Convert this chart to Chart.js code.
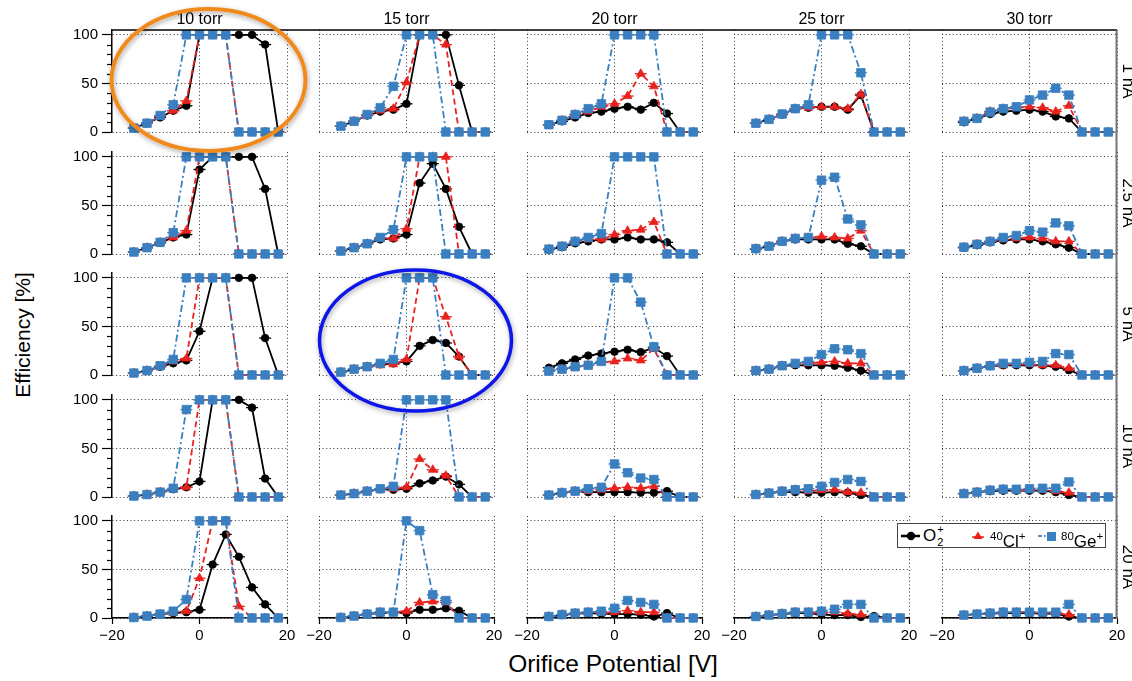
<!DOCTYPE html>
<html lang="en">
<head>
<meta charset="UTF-8">
<title>Efficiency vs orifice potential</title>
<script src="https://cdn.jsdelivr.net/npm/chart.js"></script>
<style>
  body { margin:0; width:1132px; height:681px; overflow:hidden; background:#fff;
         font-family:"Liberation Sans", Arial, Helvetica, sans-serif; position:relative; color:#000; }
  .panel { position:absolute; }
  .coltitle { position:absolute; top:9px; width:175px; text-align:center; font-size:16px; line-height:20px; }
  .rowlabel { position:absolute; width:70px; height:20px; line-height:20px; text-align:center; font-size:17px;
              transform:rotate(90deg); white-space:nowrap; }
  .ytitle { position:absolute; left:-77px; top:322px; width:200px; height:26px; line-height:26px; text-align:center;
            font-size:21px; transform:rotate(-90deg); }
  .xtitle { position:absolute; left:413px; top:649px; width:400px; text-align:center; font-size:24.5px; line-height:30px; }
  #legend { position:absolute; left:897px; top:523px; width:207px; height:23px; border:1.5px solid #444; background:#fff; z-index:5; }
  #legend .g { position:absolute; top:0; }
  #legend .t { position:absolute; top:0; font-size:17px; line-height:24px; white-space:nowrap; }
  .ss { position:relative; display:inline-block; width:9px; height:24px; vertical-align:top; }
  .ss .a { position:absolute; left:1px; top:-1px; font-size:11px; line-height:12px; }
  .ss .b { position:absolute; left:1px; top:12px; font-size:11px; line-height:12px; }
  .sp { font-size:11.5px; vertical-align:7px; }
  #overlay { position:absolute; left:0; top:0; z-index:10; pointer-events:none; }
</style>
</head>
<body>

<div class="ytitle">Efficiency [%]</div>
<div class="xtitle">Orifice Potential [V]</div>

<div id="legend">
  <svg class="g" style="left:1px" width="24" height="24">
    <line x1="2" y1="12" x2="21" y2="12" stroke="#000" stroke-width="2.5"/>
    <circle cx="12" cy="12" r="4.2" fill="#000"/>
  </svg>
  <span class="t" style="left:25px">O<span class="ss"><span class="a">+</span><span class="b">2</span></span></span>
  <svg class="g" style="left:73px" width="14" height="24">
    <polygon points="7,7.5 11.5,15 2.5,15" fill="#e8221e"/>
    <line x1="1" y1="13" x2="13" y2="13" stroke="#e8221e" stroke-width="1.5"/>
  </svg>
  <span class="t" style="left:92px"><span class="sp">40</span>Cl<span class="sp">+</span></span>
  <svg class="g" style="left:139px" width="22" height="24">
    <line x1="1" y1="12" x2="5" y2="12" stroke="#3a7fc0" stroke-width="1.8"/>
    <line x1="7" y1="12" x2="8.5" y2="12" stroke="#3a7fc0" stroke-width="1.8"/>
    <rect x="10" y="8" width="9" height="9" fill="#3a7fc0"/>
  </svg>
  <span class="t" style="left:163px"><span class="sp">80</span>Ge<span class="sp">+</span></span>
</div>

<svg id="overlay" width="1132" height="681">
  <defs>
    <filter id="shadow" x="-20%" y="-20%" width="140%" height="140%">
      <feDropShadow dx="1" dy="2" stdDeviation="2.5" flood-color="#000" flood-opacity="0.35"/>
    </filter>
  </defs>
  <line x1="111" y1="30" x2="1117" y2="30" stroke="#000" stroke-width="1.5"/>
  <line x1="1116.5" y1="30" x2="1116.5" y2="619" stroke="#777" stroke-width="2"/>
  <ellipse cx="208.5" cy="80" rx="97" ry="71" fill="none" stroke="#f08a1e" stroke-width="4" filter="url(#shadow)"/>
  <ellipse cx="415.5" cy="340.5" rx="96" ry="70.5" fill="none" stroke="#0a14e6" stroke-width="3.5" filter="url(#shadow)"/>
</svg>

<script>
// orifice potential [V]
const voltages = [-15, -12, -9, -6, -3, 0, 3, 6, 9, 12, 15, 18];
const pressures = ['10 torr', '15 torr', '20 torr', '25 torr', '30 torr'];
const currents = ['1 nA', '2.5 nA', '5 nA', '10 nA', '20 nA'];
const xTicks = [-20, 0, 20];
const yTicks = [0, 50, 100];

// efficiency [%], one list per pressure (10, 15, 20, 25, 30 torr)
const o2_1nA = [
  [4, 9, 15, 22, 27, 100, 100, 100, 100, 100, 90, 0],
  [6, 11, 17, 21, 23, 29, 100, 100, 100, 48, 0, 0],
  [7.5, 11, 15, 19.5, 21, 24, 26, 23, 30, 19, 0, 0],
  [9, 13, 18, 24, 25, 26, 26, 23, 38, 0, 0, 0],
  [10, 14, 18.5, 21, 22, 23, 21, 16, 14, 0, 0, 0]
];
const cl_1nA = [
  [4, 9, 16, 22, 32, 100, 100, 100, 0, 0, 0, 0],
  [6, 11, 17, 22, 24, 51, 100, 100, 90, 0, 0, 0],
  [7, 12, 18, 21, 26, 29, 37, 60, 47, 0, 0, 0],
  [9, 13, 18, 24, 25, 26, 26, 24, 39, 0, 0, 0],
  [11, 14, 21, 24, 25, 26, 25, 21, 27, 0, 0, 0]
];
const ge_1nA = [
  [4, 9, 17, 28, 100, 100, 100, 100, 0, 0, 0, 0],
  [6, 11, 18, 25, 47, 100, 100, 100, 0, 0, 0, 0],
  [7.5, 12, 18, 24, 29, 100, 100, 100, 100, 0, 0, 0],
  [9, 13, 18.5, 24, 28, 100, 100, 100, 61, 0, 0, 0],
  [11, 14, 20.5, 24, 26, 33, 38, 45, 38, 0, 0, 0]
];

const o2_2p5nA = [
  [2, 6.5, 11.5, 17, 20, 87, 100, 100, 100, 100, 67, 0],
  [3, 6.5, 10.5, 15, 16, 20, 73, 93, 67, 28, 0, 0],
  [4.5, 7, 11, 13, 15, 15, 17, 15, 15, 12, 0, 0],
  [5, 8, 13, 15, 15, 15, 15, 10.5, 8, 0, 0, 0],
  [6.5, 9, 12, 14, 15, 15, 13, 10, 6.5, 0, 0, 0]
];
const cl_2p5nA = [
  [2, 6.5, 12, 17, 24, 100, 100, 100, 0, 0, 0, 0],
  [3, 6.5, 10.5, 16, 16, 26, 100, 100, 100, 0, 0, 0],
  [5, 8, 13, 15, 15, 20, 24, 25, 33, 0, 0, 0],
  [5.5, 8, 13, 16, 16.5, 18, 17, 16, 24, 0, 0, 0],
  [7, 10, 13, 15, 16, 17, 16, 13, 13, 0, 0, 0]
];
const ge_2p5nA = [
  [2, 6.5, 12, 22, 100, 100, 100, 100, 0, 0, 0, 0],
  [3, 6.5, 10.5, 17, 25, 100, 100, 100, 0, 0, 0, 0],
  [5, 8, 13, 17, 21, 100, 100, 100, 100, 0, 0, 0],
  [5.5, 8, 13, 16, 17, 76, 79, 36, 30, 0, 0, 0],
  [7, 10, 13, 17, 19, 24, 22.5, 32, 29, 0, 0, 0]
];

const o2_5nA = [
  [2, 4.5, 8.5, 12, 15, 45, 100, 100, 100, 100, 38, 0],
  [3, 6, 8.5, 11, 12, 14, 30, 36, 33, 19, 0, 0],
  [7.5, 12, 16, 20, 22, 24, 26, 23.5, 28, 19.5, 0, 0],
  [4.5, 6, 9.5, 10, 10, 10, 9.5, 7.5, 4.5, 0, 0, 0],
  [4.5, 7, 9, 10, 10, 10, 10, 8.5, 5, 0, 0, 0]
];
const cl_5nA = [
  [2, 4.5, 8.5, 14, 17, 100, 100, 100, 0, 0, 0, 0],
  [3, 6, 8.5, 10, 11, 16, 100, 100, 60, 19, 0, 0],
  [4, 6, 8.5, 10, 13, 14, 17, 15, 27, 0, 0, 0],
  [4.5, 6, 9.5, 11, 12, 13, 14, 12, 12, 0, 0, 0],
  [4.5, 7, 9.5, 10, 11, 11, 10, 10, 7, 0, 0, 0]
];
const ge_5nA = [
  [2, 4.5, 9.5, 16, 100, 100, 100, 100, 0, 0, 0, 0],
  [3, 6, 8.5, 12, 16, 100, 100, 100, 0, 0, 0, 0],
  [4, 6, 8.5, 10, 14, 100, 100, 75, 29, 0, 0, 0],
  [4.5, 6, 9.5, 12, 14, 21, 27, 26, 22, 0, 0, 0],
  [4.5, 7, 9.5, 12, 12, 13, 14, 22, 21, 0, 0, 0]
];

const o2_10nA = [
  [1, 2.5, 5, 8, 10, 16, 100, 100, 100, 92, 19, 0],
  [2, 3.5, 6, 8, 7.5, 8.5, 14, 17, 21, 13, 0, 0],
  [2, 4.5, 6, 5, 5, 5, 5, 4.5, 4.5, 6, 0, 0],
  [2.5, 4, 5.5, 5, 4.5, 4.5, 5, 4.5, 2, 0, 0, 0],
  [3.5, 5, 6, 6.5, 6.5, 6.5, 6.5, 5, 2, 0, 0, 0]
];
const cl_10nA = [
  [1, 2.5, 5, 8, 10, 100, 100, 100, 0, 0, 0, 0],
  [2, 3.5, 6, 8, 8.5, 10, 39, 28, 22, 0, 0, 0],
  [2, 4.5, 6, 6, 7.5, 9, 10, 9, 11, 0, 0, 0],
  [2.5, 4, 6, 7.5, 6, 7, 7.5, 5, 4.5, 0, 0, 0],
  [3.5, 5, 7, 8, 7, 7.5, 7, 6, 4.5, 0, 0, 0]
];
const ge_10nA = [
  [1, 2.5, 5, 9, 90, 100, 100, 100, 0, 0, 0, 0],
  [2, 3.5, 6, 8.5, 11, 100, 100, 100, 100, 0, 0, 0],
  [2, 4.5, 6, 8.5, 10, 34, 25, 19.5, 18, 0, 0, 0],
  [2.5, 4, 6, 7.5, 8.5, 11, 15, 18, 16, 0, 0, 0],
  [3.5, 5, 7, 8, 8, 8.5, 9, 9, 15.5, 0, 0, 0]
];

const o2_20nA = [
  [0.5, 2, 4, 5, 6, 8.5, 55, 86, 63, 31.5, 14, 0],
  [0.5, 2, 4, 5, 6, 5, 8.5, 8.5, 10, 7.5, 0, 0],
  [1.5, 3, 4.5, 5, 4.5, 4, 4, 3.5, 1.5, 5, 0, 0],
  [1.5, 3, 4, 5, 5, 3.5, 3, 3, 1, 2, 0, 0],
  [3, 4, 4.5, 5, 5, 5, 4.5, 4.5, 1.5, 0, 0, 0]
];
const cl_20nA = [
  [0.5, 2, 4, 5, 7, 41, 100, 100, 12, 0, 0, 0],
  [0.5, 2, 4, 6, 6, 7, 16, 17, 16, 0, 0, 0],
  [1.5, 3.5, 5, 6, 5, 6, 7.5, 6, 6, 0, 0, 0],
  [1.5, 3, 4.5, 6, 6, 5, 6, 4.5, 3.5, 0, 0, 0],
  [3, 4, 5, 6, 6, 6, 5, 5, 3.5, 0, 0, 0]
];
const ge_20nA = [
  [0.5, 2, 4, 7, 19, 100, 100, 100, 0, 0, 0, 0],
  [0.5, 2, 4, 6, 6, 100, 90, 24, 18, 0, 0, 0],
  [1.5, 3.5, 5, 6, 7, 10, 18, 16, 14, 0, 0, 0],
  [1.5, 3, 4.5, 6, 6, 7, 9, 14, 14, 0, 0, 0],
  [3, 4, 5, 6, 6, 6, 6, 6, 14, 0, 0, 0]
];

const o2Rows = [o2_1nA, o2_2p5nA, o2_5nA, o2_10nA, o2_20nA];
const clRows = [cl_1nA, cl_2p5nA, cl_5nA, cl_10nA, cl_20nA];
const geRows = [ge_1nA, ge_2p5nA, ge_5nA, ge_10nA, ge_20nA];

// panel geometry
const PL = 60, PT = 16, PR = 14, PB = 40;
const AREA_W = 175, AREA_H = 102;
const colLeft = c => Math.round(111.5 + 207.5 * c);
const rowTop = r => Math.round(30 + 121.5 * r);

Chart.defaults.font.family = '"Liberation Sans", Arial, Helvetica, sans-serif';
Chart.defaults.color = '#000';

const BLACK = '#000000', RED = '#e8221e', BLUE = '#3a7fc0';
const GRID = '#333';
const DOTS = [1, 2.6];

const minus = v => v < 0 ? '\u2212' + Math.abs(v) : String(v);

// small horizontal bars through each marker (error bars)
const errorBars = {
  id: 'errorBars',
  afterDatasetDraw(chart, args) {
    const ds = chart.data.datasets[args.index];
    const ctx = chart.ctx;
    ctx.save();
    ctx.strokeStyle = ds.borderColor;
    ctx.lineWidth = 1.3;
    args.meta.data.forEach(pt => {
      ctx.beginPath();
      ctx.moveTo(pt.x - 6, pt.y);
      ctx.lineTo(pt.x + 6, pt.y);
      ctx.stroke();
    });
    ctx.restore();
  }
};

// short minor ticks on the left axis every 10 %
const minorTicks = {
  id: 'minorTicks',
  afterDraw(chart) {
    if (!chart.options.plugins.minorTicks.show) return;
    const y = chart.scales.y, left = chart.chartArea.left, ctx = chart.ctx;
    ctx.save();
    ctx.strokeStyle = '#000';
    ctx.lineWidth = 1.2;
    for (let v = 10; v < 100; v += 10) {
      if (v % 50 === 0) continue;
      const py = Math.round(y.getPixelForValue(v)) + 0.5;
      ctx.beginPath();
      ctx.moveTo(left - 5, py);
      ctx.lineTo(left, py);
      ctx.stroke();
    }
    ctx.restore();
  }
};

function series(label, vals, color, style, radius, dash, order) {
  return {
    label: label,
    data: voltages.map((v, i) => ({ x: v, y: vals[i] })),
    borderColor: color,
    backgroundColor: color,
    borderWidth: 1.8,
    borderDash: dash,
    pointStyle: style,
    pointRadius: radius,
    pointBorderWidth: 0.8,
    tension: 0,
    clip: false,
    order: order
  };
}

for (let r = 0; r < currents.length; r++) {
  for (let c = 0; c < pressures.length; c++) {
    const left = colLeft(c), top = rowTop(r);
    const isLeft = c === 0, isBottom = r === currents.length - 1;

    const box = document.createElement('div');
    box.className = 'panel';
    box.style.left = (left - PL) + 'px';
    box.style.top = (top - PT) + 'px';
    const cv = document.createElement('canvas');
    cv.width = PL + AREA_W + PR;
    cv.height = PT + AREA_H + PB;
    box.appendChild(cv);
    document.body.appendChild(box);

    new Chart(cv, {
      type: 'line',
      data: {
        datasets: [
          series('O2+', o2Rows[r][c], BLACK, 'circle', 3.8, [], 3),
          series('40Cl+', clRows[r][c], RED, 'triangle', 5, [6, 3.5], 2),
          series('80Ge+', geRows[r][c], BLUE, 'rect', 6, [7, 3, 2, 3], 1)
        ]
      },
      options: {
        responsive: false,
        animation: false,
        events: [],
        layout: { padding: { left: 0, top: PT, right: PR, bottom: 0 } },
        plugins: { legend: { display: false }, tooltip: { enabled: false }, minorTicks: { show: isLeft } },
        scales: {
          x: {
            type: 'linear', min: xTicks[0], max: xTicks[xTicks.length - 1],
            afterFit: s => { s.height = PB; },
            afterBuildTicks: s => { s.ticks = xTicks.map(v => ({ value: v })); },
            ticks: { display: isBottom, callback: minus, font: { size: 15 }, color: '#000', padding: 3, maxRotation: 0, autoSkip: false },
            grid: {
              color: ctx => (isLeft && ctx.tick && ctx.tick.value === xTicks[0]) ? 'rgba(0,0,0,0)' : GRID,
              lineWidth: 1, drawTicks: isBottom, tickLength: 6, tickColor: '#000', tickWidth: 1.2
            },
            border: { display: isBottom, color: '#000', width: 1.5, dash: DOTS }
          },
          y: {
            type: 'linear', min: 0, max: 105,
            afterFit: s => { s.width = PL; },
            afterBuildTicks: s => { s.ticks = yTicks.map(v => ({ value: v })); },
            ticks: { display: isLeft, font: { size: 15 }, color: '#000', padding: 4 },
            grid: { color: GRID, lineWidth: 1, drawTicks: isLeft, tickLength: 10, tickColor: '#000', tickWidth: 1.2 },
            border: { display: isLeft, color: '#000', width: 1.5, dash: DOTS }
          }
        }
      },
      plugins: [errorBars, minorTicks]
    });
  }
}

// column titles
pressures.forEach((p, c) => {
  const d = document.createElement('div');
  d.className = 'coltitle';
  d.style.left = colLeft(c) + 'px';
  d.textContent = p;
  document.body.appendChild(d);
});

// row labels on the right edge
currents.forEach((lab, r) => {
  const d = document.createElement('div');
  d.className = 'rowlabel';
  const cy = rowTop(r) + AREA_H / 2;
  d.style.left = (1128 - 35) + 'px';
  d.style.top = (cy - 10) + 'px';
  d.textContent = lab;
  document.body.appendChild(d);
});
</script>
</body>
</html>
